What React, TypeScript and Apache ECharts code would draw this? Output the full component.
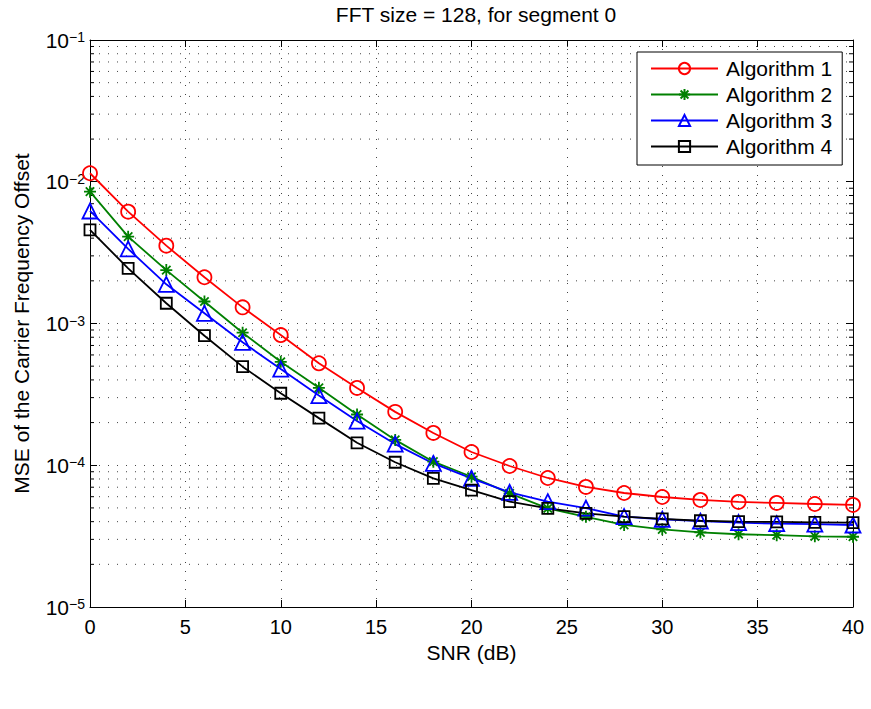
import React, { useEffect, useRef } from "react";
import * as echarts from "echarts";

const snr = [0, 2, 4, 6, 8, 10, 12, 14, 16, 18, 20, 22, 24, 26, 28, 30, 32, 34, 36, 38, 40];

const alg1 = [0.01148, 0.00615, 0.00354, 0.00212, 0.0013, 0.000829, 0.000524, 0.000351, 0.000238, 0.000169, 0.000124, 0.0000988, 0.0000813, 0.0000703, 0.0000637, 0.0000597, 0.0000569, 0.0000551, 0.0000542, 0.0000533, 0.0000525];
const alg2 = [0.00851, 0.0041, 0.00238, 0.00143, 0.000861, 0.000537, 0.000352, 0.000228, 0.000151, 0.000106, 0.000083, 0.0000634, 0.0000497, 0.0000433, 0.0000379, 0.0000353, 0.0000336, 0.0000326, 0.0000321, 0.0000315, 0.0000313];
const alg3 = [0.00622, 0.00336, 0.00189, 0.00118, 0.000737, 0.000477, 0.00031, 0.000205, 0.000141, 0.000103, 0.0000809, 0.0000644, 0.0000553, 0.0000499, 0.0000434, 0.0000416, 0.0000403, 0.0000394, 0.0000387, 0.0000384, 0.0000379];
const alg4 = [0.00457, 0.00245, 0.00139, 0.00082, 0.000496, 0.000322, 0.000215, 0.000144, 0.000105, 0.0000809, 0.0000668, 0.0000553, 0.0000497, 0.0000458, 0.0000434, 0.0000418, 0.0000406, 0.00004, 0.0000398, 0.0000396, 0.0000394];

const seriesNames = ["Algorithm 1", "Algorithm 2", "Algorithm 3", "Algorithm 4"];
const xTicks = [0, 5, 10, 15, 20, 25, 30, 35, 40];
const decades = [1e-5, 1e-4, 1e-3, 1e-2];
const minorMultipliers = [2, 3, 4, 5, 6, 7, 8, 9];

const titleText = "FFT size = 128, for segment 0";
const xName = "SNR (dB)";
const yName = "MSE of the Carrier Frequency Offset";

const FONT = "'Liberation Sans', Arial, Helvetica, sans-serif";
const ASTERISK = "path://M0,5L10,5M5,0L5,10M1.5,1.5L8.5,8.5M1.5,8.5L8.5,1.5";

export default function App() {
  const ref = useRef<HTMLDivElement>(null);

  useEffect(() => {
    if (!ref.current) return;
    const chart = echarts.init(ref.current, null, { renderer: "svg" });

    const minorVals: number[][] = [];
    decades.forEach((d) => minorMultipliers.forEach((m) => minorVals.push([xTicks[0], m * d])));

    const xMin = xTicks[0];
    const xMax = xTicks[xTicks.length - 1];
    const dash = [1, 8];

    const mkLine = (name: string, data: number[], color: string, symbol: string, size: number) => ({
      name,
      type: "line",
      data: snr.map((x, i) => [x, data[i]]),
      symbol,
      symbolSize: size,
      showSymbol: true,
      color,
      lineStyle: { color, width: 1.8 },
      itemStyle: { color: "rgba(0,0,0,0)", borderColor: color, borderWidth: 1.8 },
      emphasis: { disabled: true },
      z: 3,
    });

    const option: any = {
      animation: false,
      textStyle: { fontFamily: FONT },
      title: {
        text: titleText,
        left: 471,
        textAlign: "center",
        top: -1,
        textStyle: { fontSize: 21, fontWeight: "normal", color: "#000", fontFamily: FONT },
      },
      grid: { left: 90, right: 18, top: 40, bottom: 102, containLabel: false },
      legend: {
        data: seriesNames,
        orient: "vertical",
        left: 637,
        top: 52,
        backgroundColor: "#fff",
        borderColor: "#000",
        borderWidth: 1,
        padding: [6, 10, 8, 13],
        itemGap: 5,
        itemWidth: 67,
        itemHeight: 14,
        textStyle: { fontSize: 21, color: "#000", fontFamily: FONT, padding: [0, 0, 0, 3] },
      },
      xAxis: [
        {
          type: "value",
          min: xMin,
          max: xMax,
          interval: 5,
          name: xName,
          nameLocation: "middle",
          nameGap: 34,
          nameTextStyle: { fontSize: 21, color: "#000", fontFamily: FONT },
          axisLine: { show: true, onZero: false, lineStyle: { color: "#000", width: 1 } },
          axisTick: { show: true, inside: true, length: 7, lineStyle: { color: "#000" } },
          axisLabel: { fontSize: 20, color: "#000", margin: 10, fontFamily: FONT },
          splitLine: { show: true, lineStyle: { color: "#444", width: 1, type: dash } },
        },
        {
          type: "value",
          position: "top",
          min: xMin,
          max: xMax,
          interval: 5,
          axisLine: { show: true, onZero: false, lineStyle: { color: "#000", width: 1 } },
          axisTick: { show: true, inside: true, length: 7, lineStyle: { color: "#000" } },
          axisLabel: { show: false },
          splitLine: { show: false },
        },
      ],
      yAxis: [
        {
          type: "log",
          logBase: 10,
          min: 1e-5,
          max: 1e-1,
          name: yName,
          nameLocation: "middle",
          nameGap: 58,
          nameTextStyle: { fontSize: 21, color: "#000", fontFamily: FONT },
          axisLine: { show: true, onZero: false, lineStyle: { color: "#000", width: 1 } },
          axisTick: { show: true, inside: true, length: 7, lineStyle: { color: "#000" } },
          axisLabel: {
            margin: 5,
            color: "#000",
            fontSize: 20,
            formatter: (v: number) => {
              const e = Math.round(Math.log10(v));
              return `{b|10}{s|\u2212${-e}}`;
            },
            rich: {
              b: { fontSize: 21, lineHeight: 20, padding: [5, 0, 5, 0], fontFamily: FONT, color: "#000" },
              s: { fontSize: 14, lineHeight: 14, verticalAlign: "top", fontFamily: FONT, color: "#000" },
            },
          },
          splitLine: { show: true, lineStyle: { color: "#444", width: 1, type: dash } },
        },
        {
          type: "log",
          logBase: 10,
          min: 1e-5,
          max: 1e-1,
          position: "right",
          axisLine: { show: true, onZero: false, lineStyle: { color: "#000", width: 1 } },
          axisTick: { show: true, inside: true, length: 7, lineStyle: { color: "#000" } },
          axisLabel: { show: false },
          splitLine: { show: false },
        },
      ],
      series: [
        {
          type: "custom",
          name: "minorGrid",
          silent: true,
          z: 1,
          data: minorVals,
          renderItem: (params: any, api: any) => {
            const v = api.value(1);
            const a = api.coord([xMin, v]);
            const b = api.coord([xMax, v]);
            return {
              type: "group",
              children: [
                { type: "line", shape: { x1: a[0], y1: a[1], x2: b[0], y2: b[1] }, style: { stroke: "#444", lineWidth: 1, lineDash: dash } },
                { type: "line", shape: { x1: a[0], y1: a[1], x2: a[0] + 4, y2: a[1] }, style: { stroke: "#000", lineWidth: 1 } },
                { type: "line", shape: { x1: b[0] - 4, y1: b[1], x2: b[0], y2: b[1] }, style: { stroke: "#000", lineWidth: 1 } },
              ],
            };
          },
        },
        mkLine(seriesNames[0], alg1, "#ff0000", "circle", 14),
        mkLine(seriesNames[1], alg2, "#008000", ASTERISK, 12),
        mkLine(seriesNames[2], alg3, "#0000ff", "triangle", 15),
        mkLine(seriesNames[3], alg4, "#000000", "rect", 11),
      ],
    };

    chart.setOption(option);
    return () => chart.dispose();
  }, []);

  return (
    <div
      ref={ref}
      style={{ position: "absolute", left: 0, top: 0, width: 871, height: 709, background: "#fff" }}
    />
  );
}
